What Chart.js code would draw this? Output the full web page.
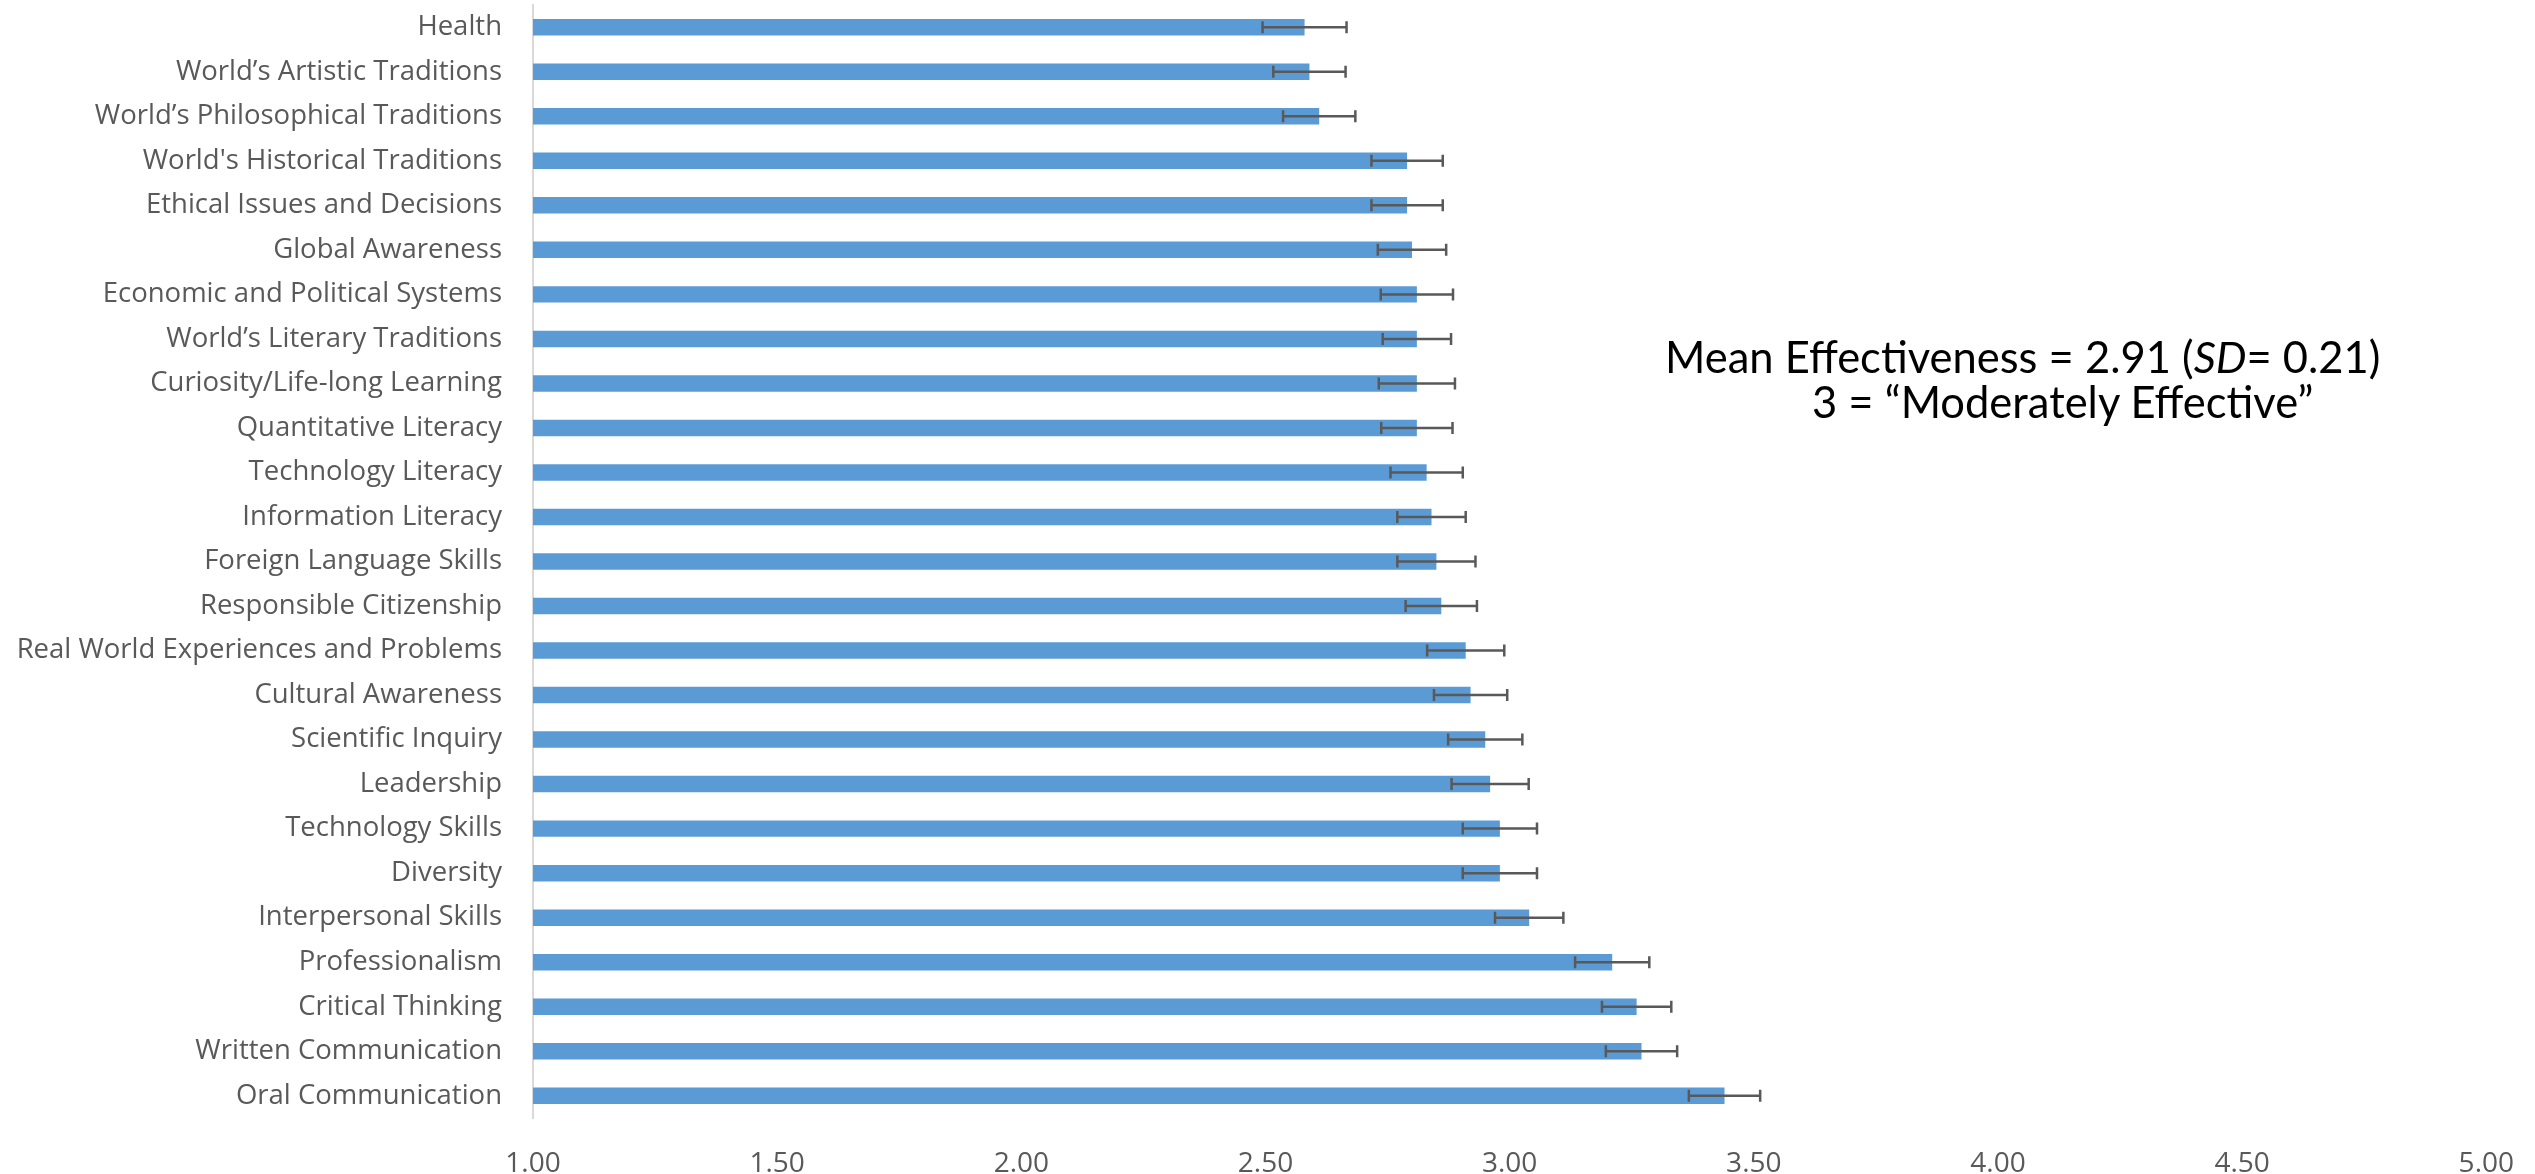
<!DOCTYPE html>
<html>
<head>
<meta charset="utf-8">
<script src="https://cdn.jsdelivr.net/npm/chart.js@4/dist/chart.umd.min.js"></script>
<style>
  body { margin:0; background:#fff; }
  #wrap { position:relative; width:2535px; height:1174px; }
  .note { position:absolute; font-family:Lato, "Open Sans", sans-serif; font-size:43.5px; line-height:44px; color:#000; white-space:nowrap; }
</style>
</head>
<body>
<div id="wrap">
  <canvas id="chart" width="2535" height="1174"></canvas>
  <div class="note" id="note1" style="left:1665px; top:334px;">Mean Effectiveness = 2.91 (<i>SD</i>= 0.21)</div>
  <div class="note" id="note2" style="left:1812px; top:379px;">3 = “Moderately Effective”</div>
</div>
<script>
const categories = ["Health", "World’s Artistic Traditions", "World’s Philosophical Traditions", "World's Historical Traditions",
	"Ethical Issues and Decisions", "Global Awareness", "Economic and Political Systems", "World’s Literary Traditions",
	"Curiosity/Life-long Learning", "Quantitative Literacy", "Technology Literacy", "Information Literacy",
	"Foreign Language Skills", "Responsible Citizenship", "Real World Experiences and Problems", "Cultural Awareness",
	"Scientific Inquiry", "Leadership", "Technology Skills", "Diversity", "Interpersonal Skills", "Professionalism",
	"Critical Thinking", "Written Communication", "Oral Communication"];

const means = [2.58, 2.59, 2.61, 2.79, 2.79, 2.80, 2.81, 2.81, 2.81, 2.81, 2.83, 2.84,
	2.85, 2.86, 2.91, 2.92, 2.95, 2.96, 2.98, 2.98, 3.04, 3.21, 3.26, 3.27, 3.44];

const errs = [0.086, 0.074, 0.074, 0.073, 0.073, 0.070, 0.074, 0.070, 0.078, 0.073, 0.074, 0.070,
	0.080, 0.073, 0.079, 0.075, 0.076, 0.079, 0.076, 0.076, 0.070, 0.076, 0.071, 0.073, 0.073];

const xMin = 1, xMax = 5, xStep = 0.5;

const labelColor = '#595959';

// draws the +/- error whiskers on each bar, using the x scale
const errorBars = {
	id: 'errorBars',
	afterDatasetsDraw(chart) {
		const ctx = chart.ctx;
		const xs = chart.scales.x;
		const meta = chart.getDatasetMeta(0);
		ctx.save();
		ctx.strokeStyle = '#595959';
		ctx.lineWidth = 2.5;
		meta.data.forEach((bar, i) => {
			const x1 = xs.getPixelForValue(means[i] - errs[i]);
			const x2 = xs.getPixelForValue(means[i] + errs[i]);
			const y = bar.y;
			ctx.beginPath();
			ctx.moveTo(x1, y); ctx.lineTo(x2, y);
			ctx.moveTo(x1, y - 6); ctx.lineTo(x1, y + 6);
			ctx.moveTo(x2, y - 6); ctx.lineTo(x2, y + 6);
			ctx.stroke();
		});
		ctx.restore();
	}
};

new Chart(document.getElementById('chart'), {
	type: 'bar',
	data: {
		labels: categories,
		datasets: [{ data: means, backgroundColor: '#5B9BD5', barPercentage: 0.37, categoryPercentage: 1 }]
	},
	options: {
		indexAxis: 'y',
		responsive: false,
		animation: false,
		layout: { padding: { top: 5, right: 41, left: 0, bottom: 0 } },
		plugins: { legend: { display: false }, tooltip: { enabled: false } },
		scales: {
			x: {
				min: xMin, max: xMax,
				grid: { display: false },
				border: { display: false },
				ticks: { stepSize: xStep, color: labelColor, font: { family: 'Open Sans', size: 28 }, padding: 21,
					callback: v => v.toFixed(2) },
				afterFit: s => { s.height = 56; }
			},
			y: {
				// invisible tick marks give the gap between labels and axis
				grid: { display: true, color: 'transparent', drawTicks: true, tickLength: 29 },
				border: { display: true, color: '#d9d9d9', width: 2 },
				ticks: { color: labelColor, font: { family: 'Open Sans', size: 27.5 }, padding: 2, autoSkip: false },
				afterFit: s => { s.width = 533; s.paddingTop = 0; s.paddingBottom = 0; }
			}
		}
	},
	plugins: [errorBars]
});
</script>
</body>
</html>
